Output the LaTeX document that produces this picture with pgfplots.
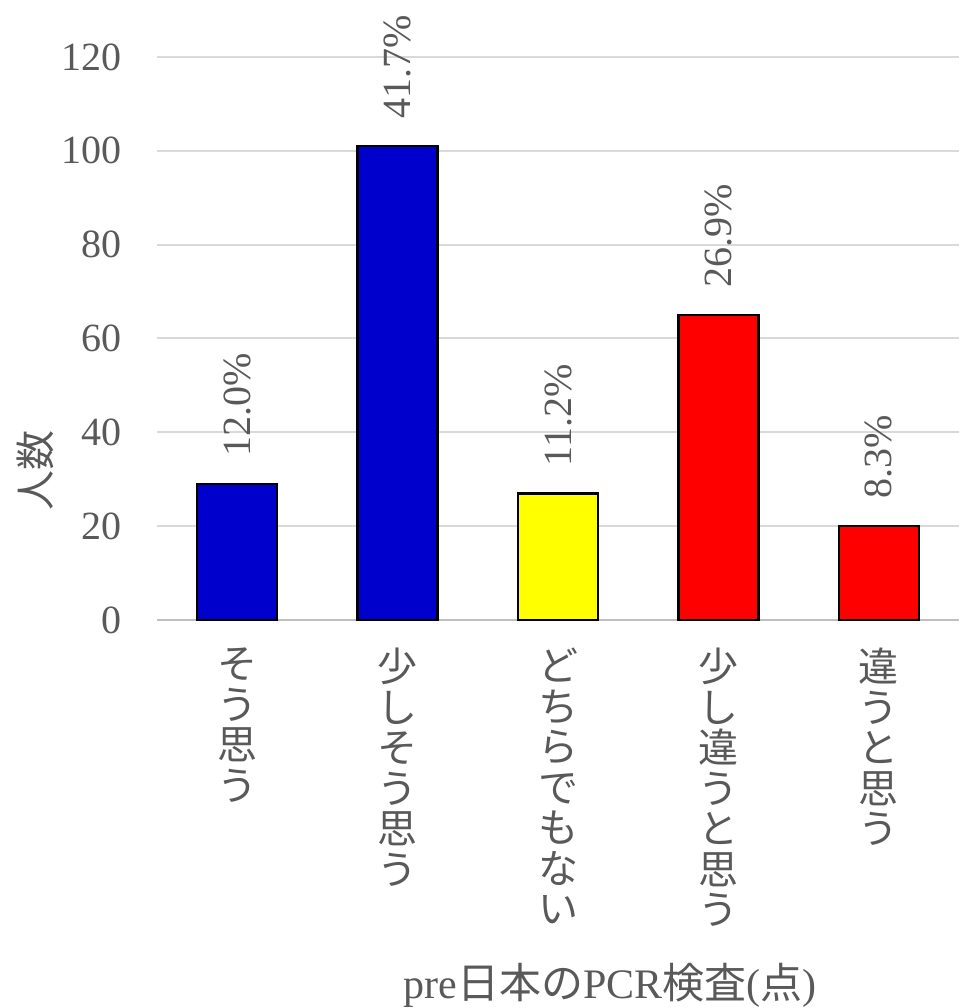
\documentclass[border=0pt]{standalone}
\usepackage{pgfplots}
\pgfplotsset{compat=1.18}
\usepackage{fontspec}
\setmainfont{Liberation Serif}
\newfontfamily\jp{Noto Sans CJK JP}
\definecolor{txt}{HTML}{595959}
\definecolor{gridc}{HTML}{D9D9D9}
\definecolor{axisc}{HTML}{BFBFBF}
\definecolor{barblue}{HTML}{0000CC}
\definecolor{baryellow}{HTML}{FFFF00}
\definecolor{barred}{HTML}{FF0000}
\newcommand{\bigsz}{\fontsize{40}{48}\selectfont}
\begin{document}
\begin{tikzpicture}
\useasboundingbox (-157pt,-388pt) rectangle (802pt,620pt);
\begin{axis}[
  at={(0,0)}, anchor=south west,
  width=802pt, height=563pt, scale only axis,
  ybar, bar width=80pt, bar shift=0pt,
  xmin=-0.5, xmax=4.5, ymin=0, ymax=120,
  ytick={0,20,...,120},
  xtick={0,1,2,3,4},
  xticklabels={{そ\\う\\思\\う},{少\\し\\そ\\う\\思\\う},{ど\\ち\\ら\\で\\も\\な\\い},{少\\し\\違\\う\\と\\思\\う},{違\\う\\と\\思\\う}},
  axis x line*=bottom, axis y line*=left,
  x axis line style={draw=axisc, line width=2pt},
  y axis line style={draw=none},
  major tick length=0pt,
  ymajorgrids=true, grid style={draw=gridc, line width=2pt},
  /pgf/number format/assume math mode=true,
  x tick label style={font=\jp\fontsize{40}{40.5}\selectfont, text=txt, align=center, anchor=north, inner sep=0pt, yshift=-28pt},
  y tick label style={font=\bigsz, text=txt, anchor=east, inner sep=0pt, xshift=-35pt},
  xlabel={pre{\jp 日本の}PCR{\jp 検査}({\jp 点})},
  xlabel style={font=\fontsize{42}{48}\selectfont, text=txt, at={(axis description cs:0.565,0)}, anchor=center, yshift=-365pt},
  ylabel={\jp 人数},
  ylabel style={font=\bigsz, text=txt, at={(axis description cs:0,0.266)}, anchor=center, yshift=122pt},
  nodes near coords,
  point meta=explicit symbolic,
  every node near coord/.append style={font=\bigsz, text=txt, rotate=90, anchor=west, inner xsep=26pt, inner ysep=0pt},
]
\addplot[fill=barblue, draw=black, line width=2.5pt] coordinates {(0,29) [12.0\%] (1,101) [41.7\%]};
\addplot[fill=baryellow, draw=black, line width=2.5pt] coordinates {(2,27) [11.2\%]};
\addplot[fill=barred, draw=black, line width=2.5pt] coordinates {(3,65) [26.9\%] (4,20) [8.3\%]};
\end{axis}
\end{tikzpicture}
\end{document}
